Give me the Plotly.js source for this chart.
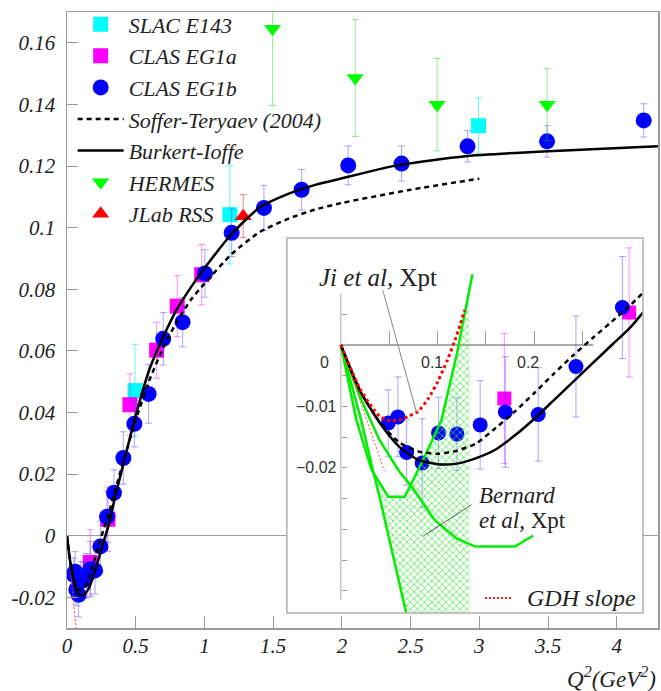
<!DOCTYPE html>
<html>
<head>
<meta charset="utf-8">
<script src="https://cdn.plot.ly/plotly-3.0.1.min.js"></script>
<style>
  html, body { margin: 0; padding: 0; background: #ffffff; }
  #chart { width: 661px; height: 691px; }
</style>
</head>
<body>
<div id="chart"></div>
<script>
// ---------------- data ----------------
// SLAC E143
const slacQ2  = [0.495, 1.185, 2.994];
const slacG   = [0.0471, 0.1042, 0.1331];
const slacErr = [0.015, 0.016, 0.009];
// CLAS EG1a
const eg1aQ2  = [0.169, 0.298, 0.458, 0.652, 0.802, 0.980];
const eg1aG   = [-0.0087, 0.0053, 0.0425, 0.0602, 0.0745, 0.0847];
const eg1aErr = [0.0106, 0.0105, 0.0100, 0.0091, 0.0099, 0.0098];
// CLAS EG1b
const eg1bQ2  = [0.049, 0.059, 0.068, 0.084, 0.101, 0.120, 0.144, 0.170, 0.204, 0.243, 0.291,
                 0.342, 0.410, 0.490, 0.594, 0.700, 0.841, 1.004, 1.198, 1.433, 1.707, 2.046,
                 2.434, 2.914, 3.493, 4.196];
const eg1bG   = [-0.0127, -0.0117, -0.0175, -0.0192, -0.0143, -0.0145, -0.0130, -0.0109, -0.0113,
                 -0.0035, 0.0061, 0.0139, 0.0252, 0.0363, 0.0460, 0.0639, 0.0693, 0.0851, 0.0983,
                 0.1064, 0.1123, 0.1202, 0.1208, 0.1264, 0.1280, 0.1348];
const eg1bErr = [0.0054, 0.0065, 0.0053, 0.0072, 0.0058, 0.0059, 0.0072, 0.0090, 0.0076, 0.0082,
                 0.0083, 0.0075, 0.0085, 0.0075, 0.0095, 0.0085, 0.0080, 0.0077, 0.0077, 0.0073,
                 0.0066, 0.0063, 0.0057, 0.0051, 0.0051, 0.0054];
// HERMES
const hermesQ2  = [1.496, 2.097, 2.693, 3.493];
const hermesG   = [0.1646, 0.1486, 0.1399, 0.1399];
const hermesErr = [0.025, 0.019, 0.015, 0.0117];
// JLab RSS
const rssQ2  = [1.282];
const rssG   = [0.1037];
const rssErr = [0.007];

// Burkert-Ioffe model
const burkertQ2 = [0, 0.02, 0.04, 0.06, 0.08, 0.10, 0.12, 0.14, 0.16, 0.18, 0.20, 0.22, 0.24, 0.26,
                   0.28, 0.30, 0.35, 0.40, 0.50, 0.60, 0.70, 0.80, 0.90, 1.00, 1.20, 1.40, 1.60,
                   1.80, 2.00, 2.40, 2.90, 3.50, 4.30];
const burkertG  = [0, -0.0075, -0.0126, -0.0165, -0.0187, -0.0194, -0.0193, -0.0184, -0.0170,
                   -0.0147, -0.0120, -0.0090, -0.0060, -0.0030, 0.0000, 0.0030, 0.0125, 0.0215,
                   0.0390, 0.0540, 0.0645, 0.0735, 0.0805, 0.0868, 0.0980, 0.1065, 0.1108,
                   0.1138, 0.1160, 0.1202, 0.1232, 0.1248, 0.1264];
// Soffer-Teryaev (2004)
const sofferQ2 = [0, 0.02, 0.04, 0.06, 0.08, 0.10, 0.12, 0.14, 0.16, 0.18, 0.20, 0.22, 0.24, 0.26,
                  0.28, 0.30, 0.35, 0.40, 0.50, 0.60, 0.70, 0.80, 0.90, 1.00, 1.20, 1.40, 1.60,
                  1.80, 2.00, 2.50, 3.00];
const sofferG  = [0, -0.0075, -0.0125, -0.0158, -0.0173, -0.0177, -0.0172, -0.0160, -0.0135,
                  -0.0108, -0.0078, -0.0047, -0.0017, 0.0011, 0.0038, 0.0066, 0.0145, 0.0225,
                  0.0375, 0.0505, 0.0610, 0.0695, 0.0765, 0.0818, 0.0915, 0.0985, 0.1027,
                  0.1058, 0.1080, 0.1123, 0.1159];
// Ji et al, chiral perturbation theory
const jiQ2 = [0, 0.02, 0.04, 0.05, 0.06, 0.07, 0.08, 0.09, 0.10, 0.11, 0.12, 0.128];
const jiG  = [0, -0.0072, -0.0116, -0.0123, -0.0122, -0.0116, -0.0108, -0.0088, -0.0060, -0.0025, 0.0017, 0.0057];
// Bernard et al, chiral perturbation theory (band edges and central curve)
const bernLowQ2  = [0, 0.021, 0.033, 0.040, 0.068, 0.075];
const bernLowG   = [0, -0.0122, -0.0203, -0.0247, -0.0439, -0.0490];
const bernHighQ2 = [0, 0.016, 0.0317, 0.049, 0.066, 0.085, 0.104, 0.120, 0.136];
const bernHighG  = [0, -0.0122, -0.0203, -0.0247, -0.0247, -0.0187, -0.0122, -0.0014, 0.0115];
const bernMidQ2  = [0, 0.02, 0.04, 0.06, 0.073, 0.097, 0.12, 0.139, 0.18, 0.199];
const bernMidG   = [0, -0.0085, -0.0155, -0.0205, -0.0230, -0.0285, -0.0315, -0.0328, -0.0328, -0.0310];
const bandCutQ2  = 0.133;
// GDH slope
const gdhMainQ2  = [0, 0.066];
const gdhMainG   = [0, -0.030];
const gdhInsetQ2 = [0, 0.045];
const gdhInsetG  = [0, -0.0205];

// ticks
const mainXTickVals = [0, 0.5, 1, 1.5, 2, 2.5, 3, 3.5, 4];
const mainXTickText = ['0', '0.5', '1', '1.5', '2', '2.5', '3', '3.5', '4'];
const mainYTickVals = [-0.02, 0, 0.02, 0.04, 0.06, 0.08, 0.10, 0.12, 0.14, 0.16];
const mainYTickText = ['-0.02', '0', '0.02', '0.04', '0.06', '0.08', '0.1', '0.12', '0.14', '0.16'];
const insetXTickVals = [0, 0.1, 0.2];
const insetXTickText = ['0', '0.1', '0.2'];
const insetYTickVals = [-0.01, -0.02];
const insetYTickText = ['\u22120.01', '\u22120.02'];

// ---------------- styling ----------------
const serif = 'Liberation Serif';
const sans = 'Liberation Sans';
const gray = '#9a9a9a';
const italic = function (t) { return '<i>' + t + '</i>'; };

function errStyle(arr, color) {
  return {type: 'data', array: arr, visible: true, color: color, thickness: 1, width: 3.5};
}
function pts(x, y, err, sym, size, color, ecolor, name, rank, axes, showlegend) {
  return {
    type: 'scatter', mode: 'markers', x: x, y: y, name: name,
    xaxis: axes[0], yaxis: axes[1], showlegend: showlegend, legendrank: rank,
    marker: {symbol: sym, size: size, color: color, line: {width: 0}},
    error_y: errStyle(err, ecolor), cliponaxis: true, hoverinfo: 'skip'
  };
}
function curve(x, y, color, width, dash, name, rank, axes, showlegend, shape) {
  return {
    type: 'scatter', mode: 'lines', x: x, y: y, name: name,
    xaxis: axes[0], yaxis: axes[1], showlegend: showlegend, legendrank: rank,
    line: {color: color, width: width, dash: dash, shape: shape || 'spline', smoothing: 0.6},
    hoverinfo: 'skip'
  };
}
const M = ['x', 'y'];
const I = ['x2', 'y2'];

// build hatched band polygon from the band edges
function interp(xs, ys, x) {
  for (let i = 1; i < xs.length; i++) {
    if (x <= xs[i]) {
      const t = (x - xs[i - 1]) / (xs[i] - xs[i - 1]);
      return ys[i - 1] + t * (ys[i] - ys[i - 1]);
    }
  }
  return ys[ys.length - 1];
}
const bandX = [], bandY = [];
for (let i = 0; i < bernLowQ2.length; i++) { bandX.push(bernLowQ2[i]); bandY.push(bernLowG[i]); }
bandX.push(bandCutQ2); bandY.push(bernLowG[bernLowG.length - 1]);
bandX.push(bandCutQ2); bandY.push(interp(bernHighQ2, bernHighG, bandCutQ2));
for (let i = bernHighQ2.length - 1; i >= 0; i--) {
  if (bernHighQ2[i] < bandCutQ2) { bandX.push(bernHighQ2[i]); bandY.push(bernHighG[i]); }
}

const green = '#00ee00';
const traces = [
  // ---- main plot markers ----
  pts(slacQ2, slacG, slacErr, 'square', 15, '#00ffff', 'rgba(0,230,230,0.55)', 'SLAC E143', 1, M, true),
  pts(eg1aQ2, eg1aG, eg1aErr, 'square', 15, '#ff00ff', 'rgba(255,0,255,0.45)', 'CLAS EG1a', 2, M, true),
  pts(eg1bQ2, eg1bG, eg1bErr, 'circle', 16, '#0000ff', 'rgba(60,60,255,0.45)', 'CLAS EG1b', 3, M, true),
  pts(hermesQ2, hermesG, hermesErr, 'triangle-down', 15, '#00ff00', 'rgba(0,220,0,0.45)', 'HERMES', 6, M, true),
  pts(rssQ2, rssG, rssErr, 'triangle-up', 15, '#ff0000', 'rgba(255,0,0,0.5)', 'JLab RSS', 7, M, true),
  // ---- main plot curves ----
  curve(gdhMainQ2, gdhMainG, '#ff3030', 1, '2px,2px', 'GDH slope', 20, M, false, 'linear'),
  curve(sofferQ2, sofferG, '#000000', 2.5, '5px,4px', 'Soffer-Teryaev (2004)', 4, M, true),
  curve(burkertQ2, burkertG, '#000000', 2.5, 'solid', 'Burkert-Ioffe', 5, M, true),
  // ---- inset markers ----
  pts(eg1aQ2, eg1aG, eg1aErr, 'square', 14, '#ff00ff', 'rgba(255,0,255,0.45)', 'CLAS EG1a', 30, I, false),
  pts(eg1bQ2, eg1bG, eg1bErr, 'circle', 15, '#0000ff', 'rgba(60,60,255,0.45)', 'CLAS EG1b', 31, I, false),
  // ---- inset theory ----
  {type: 'scatter', mode: 'lines', x: bandX, y: bandY, xaxis: 'x2', yaxis: 'y2', showlegend: false,
   fill: 'toself', fillcolor: 'rgba(0,0,0,0)', line: {width: 0},
   fillpattern: {shape: 'x', fgcolor: '#33ee33', bgcolor: 'rgba(0,0,0,0)', size: 5, solidity: 0.25},
   hoverinfo: 'skip'},
  curve(bernLowQ2, bernLowG, green, 2.5, 'solid', 'Bernard low', 40, I, false, 'linear'),
  curve(bernHighQ2, bernHighG, green, 2.5, 'solid', 'Bernard high', 41, I, false, 'linear'),
  curve(bernMidQ2, bernMidG, green, 2.5, 'solid', 'Bernard mid', 42, I, false, 'linear'),
  curve(gdhInsetQ2, gdhInsetG, '#ff5050', 1, '2px,2px', 'GDH slope', 43, I, false, 'linear'),
  curve(sofferQ2, sofferG, '#000000', 2.5, '5px,4px', 'Soffer-Teryaev (2004)', 44, I, false),
  curve(burkertQ2, burkertG, '#000000', 2.5, 'solid', 'Burkert-Ioffe', 45, I, false),
  curve(jiQ2, jiG, '#ff0000', 3, 'dot', 'Ji et al', 46, I, false)
];

const insetFont = {family: sans, size: 16, color: '#333'};

// inset tick labels, placed at the inset axis tick values
const insetLabels = [];
insetXTickVals.forEach(function (v, i) {
  insetLabels.push({xref: 'x2', yref: 'y2', x: v, y: 0, xanchor: 'center', yanchor: 'middle',
    xshift: (v === 0 ? -16 : -6), yshift: -17, showarrow: false, text: insetXTickText[i], font: insetFont});
});
insetYTickVals.forEach(function (v, i) {
  insetLabels.push({xref: 'x2', yref: 'y2', x: 0, y: v, xanchor: 'right', yanchor: 'middle',
    xshift: -2, showarrow: false, text: insetYTickText[i], font: insetFont});
});

const mainTickFont = {family: serif, style: 'italic', size: 21, color: '#222'};

const layout = {
  width: 661, height: 691,
  margin: {l: 67, r: 3, t: 12, b: 63},
  paper_bgcolor: '#ffffff',
  plot_bgcolor: '#ffffff',
  showlegend: true,
  legend: {
    x: 0.0096, y: 1.014, xanchor: 'left', yanchor: 'top',
    bgcolor: 'rgba(0,0,0,0)', borderwidth: 0, itemwidth: 46, tracegroupgap: 0,
    font: {family: serif, style: 'italic', size: 22, color: '#222'}
  },
  xaxis: {
    domain: [0, 1], range: [0, 4.3], anchor: 'y',
    showline: true, linecolor: gray, linewidth: 1.5, mirror: true,
    ticks: 'inside', ticklen: 12, tickwidth: 1, tickcolor: gray,
    tickmode: 'array', tickvals: mainXTickVals, ticktext: mainXTickText.map(italic),
    showgrid: false, zeroline: false,
    tickfont: Object.assign({}, mainTickFont), ticklabelstandoff: -2
  },
  yaxis: {
    domain: [0, 1], range: [-0.03, 0.17], anchor: 'x',
    showline: true, linecolor: gray, linewidth: 1.5, mirror: true,
    ticks: 'inside', ticklen: 11, tickwidth: 1, tickcolor: gray,
    tickmode: 'array', tickvals: mainYTickVals, ticktext: mainYTickText.map(italic),
    showgrid: false, zeroline: true, zerolinecolor: '#a0a0a0', zerolinewidth: 1.5,
    tickfont: Object.assign({}, mainTickFont), ticklabelstandoff: 6
  },
  // minor ticks of the main frame (tick-only overlay axes)
  xaxis3: {
    overlaying: 'x', anchor: 'y', side: 'bottom', range: [0, 4.3],
    showline: false, showgrid: false, zeroline: false, showticklabels: false,
    ticks: 'inside', ticklen: 6, tickwidth: 1, tickcolor: gray, tickmode: 'linear', tick0: 0, dtick: 0.1
  },
  yaxis3: {
    overlaying: 'y', anchor: 'x', side: 'left', range: [-0.03, 0.17],
    showline: false, showgrid: false, zeroline: false, showticklabels: false,
    ticks: 'inside', ticklen: 6, tickwidth: 1, tickcolor: gray, tickmode: 'linear', tick0: 0, dtick: 0.005
  },
  xaxis2: {
    domain: [0.372, 0.9746], range: [-0.0558, 0.3123], anchor: 'free', position: 0.4594,
    showline: false, showgrid: false, zeroline: false, showticklabels: false,
    ticks: 'inside', ticklen: 14, tickwidth: 1, tickcolor: '#999',
    tickmode: 'array', tickvals: [0.05, 0.1, 0.15, 0.2, 0.25]
  },
  yaxis2: {
    domain: [0.0244, 0.633], range: [-0.0436, 0.0174], anchor: 'free', position: 0.4634,
    showline: false, showgrid: false, zeroline: false, showticklabels: false,
    ticks: 'inside', ticklen: 5, tickwidth: 1, tickcolor: '#999',
    tickmode: 'array', tickvals: [-0.04, -0.035, -0.03, -0.025, -0.02, -0.015, -0.01, -0.005, 0.005]
  },
  shapes: [
    // inset frame
    {type: 'rect', xref: 'paper', yref: 'paper', x0: 0.372, x1: 0.9746, y0: 0.0244, y1: 0.633,
     line: {color: '#b0b0b0', width: 1.5}, fillcolor: 'rgba(0,0,0,0)', layer: 'above'},
    // inset axis lines
    {type: 'line', xref: 'x2', yref: 'y2', x0: 0, x1: 0.261, y0: 0, y1: 0, line: {color: '#555', width: 1}, layer: 'below'},
    {type: 'line', xref: 'x2', yref: 'y2', x0: 0, x1: 0, y0: 0.0084, y1: -0.0415, line: {color: '#aaa', width: 1}, layer: 'below'},
    // leader lines
    {type: 'line', xref: 'x2', yref: 'y2', x0: 0.0434, y0: 0.0089, x1: 0.0783, y1: -0.0110, line: {color: '#888', width: 1}, layer: 'above'},
    {type: 'line', xref: 'x2', yref: 'y2', x0: 0.135, y0: -0.0260, x1: 0.085, y1: -0.0311, line: {color: '#555', width: 1}, layer: 'above'},
    // GDH slope key
    {type: 'line', xref: 'paper', yref: 'paper', x0: 0.7073, x1: 0.753, y0: 0.0487, y1: 0.0487,
     line: {color: '#ff2020', width: 2, dash: '2px,2px'}, layer: 'above'}
  ],
  annotations: insetLabels.concat([
    {xref: 'paper', yref: 'paper', x: 0.423, y: 0.5698, xanchor: 'left', yanchor: 'middle', showarrow: false,
     text: '<i>Ji et al,</i> Xpt', font: {family: serif, size: 25, color: '#222'}},
    {xref: 'paper', yref: 'paper', x: 0.6937, y: 0.2150, xanchor: 'left', yanchor: 'middle', showarrow: false,
     text: '<i>Bernard</i>', font: {family: serif, size: 23, color: '#222'}},
    {xref: 'paper', yref: 'paper', x: 0.6937, y: 0.1740, xanchor: 'left', yanchor: 'middle', showarrow: false,
     text: '<i>et al,</i> Xpt', font: {family: serif, size: 23, color: '#222'}},
    {xref: 'paper', yref: 'paper', x: 0.775, y: 0.0487, xanchor: 'left', yanchor: 'middle', showarrow: false,
     text: '<i>GDH slope</i>', font: {family: serif, size: 24, color: '#222'}},
    {xref: 'paper', yref: 'paper', x: 1.0, y: -0.080, xanchor: 'right', yanchor: 'middle', showarrow: false,
     text: '<i>Q<sup>2</sup>(GeV<sup>2</sup>)</i>', font: {family: serif, size: 23, color: '#222'}}
  ])
};

Plotly.newPlot('chart', traces, layout, {staticPlot: true, displayModeBar: false});
</script>
</body>
</html>
